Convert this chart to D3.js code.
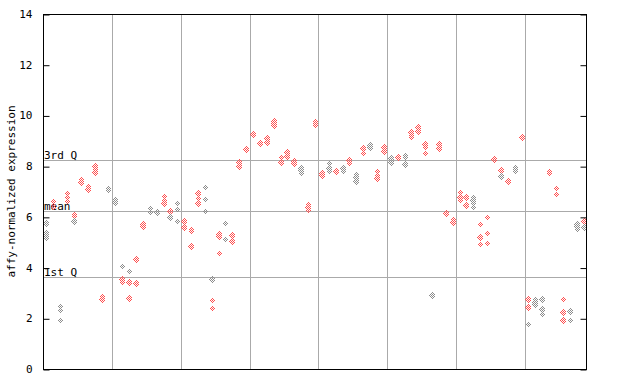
<!DOCTYPE html>
<html><head><meta charset="utf-8">
<script src="https://cdn.jsdelivr.net/npm/d3@7"></script>
<style>body{margin:0;background:#fff}svg{display:block}</style>
</head><body><div id="chart"></div>
<script>
// ---- data ----
const sampleValues = [
 [5.75,5.38,5.22],[6.62,6.45,6.4],[2.48,2.33,1.93],[6.93,6.8,6.64],[6.1,6.05,5.85],
 [7.48,7.38,7.35],[7.22,7.15,7.08],[8.0,7.88,7.78],[2.88,2.76,2.72],[7.12,7.05],
 [6.69,6.58,6.53],[4.06,3.54,3.43],[3.86,3.43,2.8],[4.35,4.33,3.39],[5.7,5.63],
 [6.34,6.18],[6.22,6.18],[6.82,6.66,6.56],[6.22,6.18,6.0],[6.53,6.3,5.82],
 [5.82,5.78,5.59],[5.51,5.45,4.84],[6.93,6.75,6.56],[7.16,6.69,6.22],[3.55,2.72,2.41],
 [5.32,5.24,4.56],[5.74,5.11],[5.32,5.28,5.03],[8.15,8.04,8.02],[8.66,8.62],
 [9.27,9.22],[8.9,8.86],[9.1,9.0,8.96],[9.77,9.72,9.61],[8.36,8.19,8.15],
 [8.54,8.39],[8.21,8.13,8.1],[7.94,7.85,7.72],[6.49,6.38,6.27],[9.79,9.69,9.62],
 [7.71,7.67],[8.13,7.94,7.82],[7.79,7.75],[7.91,7.81],[8.29,8.25,8.13],
 [7.69,7.58,7.43],[8.72,8.68,8.53],[8.82,8.75,8.7],[7.81,7.67,7.54],[8.74,8.7,8.6],
 [8.32,8.16],[8.37,8.33],[8.43,8.36,8.07],[9.33,9.24,9.14],[9.53,9.49,9.4],
 [8.86,8.75,8.5],[2.97,2.92],[8.86,8.74,8.72],[6.2,6.16],[5.9,5.79,5.75],
 [6.97,6.77,6.66],[6.82,6.78,6.45],[6.8,6.66,6.56,6.4],[5.7,5.19,4.92],[5.98,5.35,4.96],
 [8.34,8.3],[7.88,7.84,7.61],[7.43,7.38],[7.98,7.87,7.82],[9.17,9.13],
 [2.75,2.43,1.76],[2.75,2.63,2.58],[2.75,2.37,2.16],[7.81,7.72],[7.12,6.89],
 [2.75,2.25,1.92],[2.28,2.24,1.92],[5.72,5.62,5.51],[5.87,5.83,5.59]
];
// marker class per point: "r" = red, "g" = grey
const sampleClasses = [
 "ggg","rrr","ggg","rrr","rrg",
 "rrr","rrr","rrr","rrr","gg",
 "ggg","grr","grr","rrr","rr",
 "gg","gg","rrr","rrg","ggg",
 "rrr","rrr","rrr","ggg","grr",
 "rrr","gg","rrr","rrr","rr",
 "rr","rr","rrr","rrr","rrr",
 "rr","rrr","ggg","rrr","rrr",
 "rr","ggg","rr","gg","rrr",
 "ggg","rrr","ggg","rrr","rrr",
 "gg","rr","ggg","rrr","rrr",
 "rrr","gg","rrr","rr","rrr",
 "rrr","rrr","gggg","rrr","rrr",
 "rr","rrg","rr","ggg","rr",
 "rrg","ggg","ggg","rr","rr",
 "rrr","ggg","ggg","rrg"
];
const samples = sampleValues.map((d,i)=>i);
const refNames = ["3rd Q","mean","1st Q"];
const refValues = [8.23, 6.22, 3.62];
const yTicks = [0,2,4,6,8,10,12,14];
const yTitle = "affy-normalized expression";
const groupSize = 10;

// ---- chart ----
const W=640,H=384, L=43, R=587, T=14, B=369;
const svg=d3.select("#chart").append("svg").attr("width",W).attr("height",H);
const font="'DejaVu Sans Mono', monospace";

const x=d3.scaleBand().domain(samples).range([L,R]).padding(0);
const y=d3.scaleLinear().domain([0,14]).range([B,T]);
const color=d3.scaleOrdinal().domain(["r","g"]).range(["#ff4f4f","#8c8c8c"]);

const defs=svg.append("defs");
color.domain().forEach(k=>{
  const pat=defs.append("pattern").attr("id","chk-"+k).attr("patternUnits","userSpaceOnUse")
    .attr("width",2).attr("height",2);
  pat.append("rect").attr("x",0).attr("y",0).attr("width",1).attr("height",1).attr("fill",color(k));
  pat.append("rect").attr("x",1).attr("y",1).attr("width",1).attr("height",1).attr("fill",color(k));
});

const grid="#aaaaaa";
const vlines=samples.filter(i=>i>0 && i%groupSize===0);
svg.append("g").selectAll("line").data(vlines).join("line")
  .attr("x1",d=>Math.round(x(d))+0.5).attr("x2",d=>Math.round(x(d))+0.5)
  .attr("y1",T).attr("y2",B).attr("stroke",grid).attr("stroke-width",1);

svg.append("g").selectAll("line").data(refValues).join("line")
  .attr("x1",L).attr("x2",R)
  .attr("y1",d=>Math.round(y(d))+0.5).attr("y2",d=>Math.round(y(d))+0.5)
  .attr("stroke",grid).attr("stroke-width",1);
svg.append("g").selectAll("text").data(refNames).join("text")
  .attr("x",L+1).attr("y",(d,i)=>Math.round(y(refValues[i]))-1)
  .attr("font-family",font).attr("font-size",11).attr("fill","#000").text(d=>d);

const pts=[];
sampleValues.forEach((vals,i)=>vals.forEach((v,j)=>pts.push({i,v,c:sampleClasses[i][j]||"r"})));
pts.sort((a,b)=>(a.c==="g")-(b.c==="g"));
svg.append("g").selectAll("path").data(pts).join("path")
  .attr("d",d=>{const cx=Math.round(x(d.i)+x.bandwidth()/2)+0.5, cy=Math.round(y(d.v))+0.5;
     return `M${cx},${cy-3.5}L${cx+3},${cy}L${cx},${cy+3.5}L${cx-3},${cy}Z`;})
  .attr("fill",d=>`url(#chk-${d.c})`).attr("shape-rendering","crispEdges");

svg.append("rect").attr("x",L+0.5).attr("y",T+0.5).attr("width",R-L-1).attr("height",B-T)
  .attr("fill","none").attr("stroke","#000").attr("stroke-width",1);

const yl=svg.append("g").attr("transform",`translate(${L+0.5},0)`)
  .call(d3.axisLeft(y).tickValues(yTicks).tickSize(-6).tickPadding(11).tickFormat(d3.format("d")));
yl.select(".domain").remove();
yl.selectAll("line").attr("stroke","#000").attr("transform","translate(0,0.5)");
yl.selectAll("text").attr("font-family",font).attr("font-size",11).attr("fill","#000");
const yr=svg.append("g").attr("transform",`translate(${R-0.5},0)`)
  .call(d3.axisRight(y).tickValues(yTicks).tickSize(-6).tickFormat(""));
yr.select(".domain").remove();
yr.selectAll("line").attr("stroke","#000").attr("transform","translate(0,0.5)");

svg.append("text").attr("transform",`translate(15,${(T+B)/2}) rotate(-90)`)
  .attr("text-anchor","middle").attr("font-family",font).attr("font-size",11)
  .attr("fill","#000").text(yTitle);
</script></body></html>
